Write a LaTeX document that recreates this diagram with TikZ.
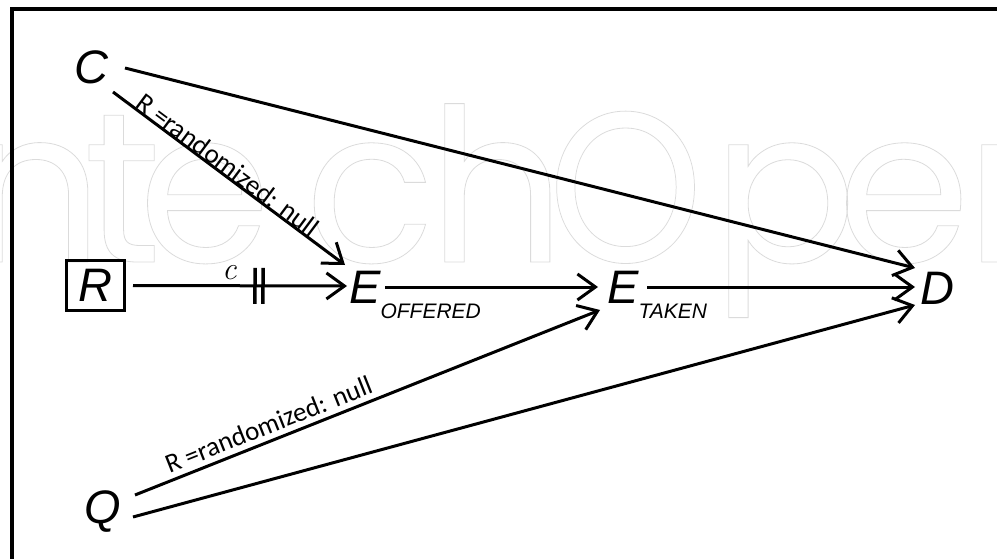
\documentclass[tikz,border=0pt]{standalone}
\usepackage{fontspec}
\usetikzlibrary{arrows.meta,decorations.markings}
\newfontfamily\ari{Liberation Sans}
\newfontfamily\carl{Carlito}
\newfontfamily\pop{Poppins}
\newcommand\wmL[2]{\makebox[#1pt][l]{#2}}
\begin{document}
\begin{tikzpicture}[x=1pt,y=-1pt,
  big/.style={font={\ari\itshape\fontsize{47}{47}\selectfont}, inner sep=0pt},
  arr/.style={line width=3pt,-{Straight Barb[length=18pt,width=26pt]}},
  lab/.style={font={\carl\fontsize{27}{27}\selectfont}, sloped}]
\useasboundingbox (0,0) rectangle (997,559);
\clip (0,0) rectangle (997,559);
% watermark
\node[anchor=base west, text=black!14, font={\pop\fontsize{214}{214}\selectfont}, inner sep=0pt] (wm) at (-72,262)
  {\special{pdf:literal direct 1 Tr 0.8 w}\wmL{38}{I}\wmL{117}{n}\wmL{55}{t}\wmL{167}{e}\wmL{123}{c}\wmL{120}{h}\wmL{164}{\scalebox{0.92}[1]{O}}\wmL{125}{p}\wmL{128}{e}\wmL{120}{n}\special{pdf:literal direct 0 Tr}};
% frame
\draw[line width=4pt] (12,9) rectangle (1020,580);
% nodes
\node[big, anchor=base] (C) at (91,84) {C};
\node[big, anchor=base] (D) at (937,304) {D};
\node[big, anchor=base] (Q) at (103,523) {Q};
\node[big, draw, line width=3pt, minimum width=58pt, minimum height=50pt] (R) at (95.5,285.5) {R};
\node[big, anchor=base west] (Eo) at (349,303) {E\raisebox{-15pt}{\fontsize{21}{21}\selectfont OFFERED}};
\node[big, anchor=base west] (Et) at (607,303) {E\raisebox{-15pt}{\fontsize{21}{21}\selectfont TAKEN}};
% connectors
\draw[arr] ([shift={(34,-16)}]C.base) -- ([shift={(-22,-36)}]D.base);
\draw[arr] ([shift={(22,8)}]C.base) -- node[lab, pos=0.47, above=1pt, anchor=base] {R =randomized: null} ([shift={(-4,-38)}]Eo.base west);
\draw[arr, postaction={decorate}, decoration={markings, mark=at position 126pt with {\draw[-, line width=3.5pt] (-4,-18)--(-4,18) (4,-18)--(4,18);}}]
  ([xshift=7pt]R.east) -- node[pos=0.45, above=1pt, font={\fontsize{32}{32}\selectfont\itshape}] {c} ([shift={(-2,-17)}]Eo.base west);
\draw[arr] ([shift={(36,-16)}]Eo.base west) -- ([shift={(-9,-16)}]Et.base west);
\draw[arr] ([shift={(40,-16)}]Et.base west) -- ([shift={(-22,-17)}]D.base);
\draw[arr] ([shift={(32,-28)}]Q.base) -- node[lab, pos=0.30, above=7pt, anchor=base] {R =randomized: null} ([shift={(-7,7)}]Et.base west);
\draw[arr] ([shift={(30,-6)}]Q.base) -- ([shift={(-22,1)}]D.base);
\end{tikzpicture}
\end{document}
